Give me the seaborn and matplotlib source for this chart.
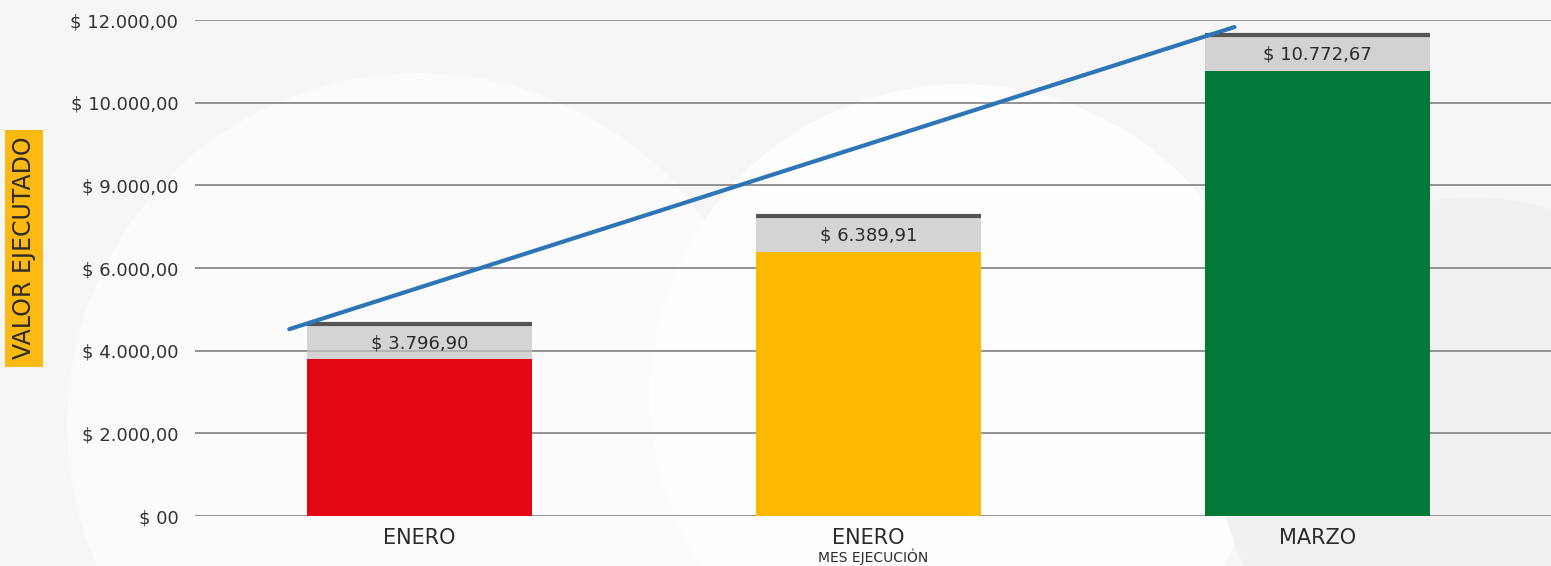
import matplotlib
matplotlib.use("Agg")
import matplotlib.pyplot as plt
from matplotlib.patches import Circle
import pandas as pd
import seaborn as sns

# data
months = ["ENERO", "ENERO", "MARZO"]
values = [3796.90, 6389.91, 10772.67]
value_labels = ["$ 3.796,90", "$ 6.389,91", "$ 10.772,67"]
bar_colors = ["#E30613", "#FFB900", "#007A36"]
cap = 860
tick_values = [0, 2000, 4000, 6000, 8000, 10000, 12000]
tick_labels = ["$ 00", "$ 2.000,00", "$ 4.000,00", "$ 6.000,00",
               "$ 9.000,00", "$ 10.000,00", "$ 12.000,00"]
trend_x = [-0.29, 1.815]
trend_y = [4520, 11830]

df = pd.DataFrame({"key": ["m1", "m2", "m3"], "month": months, "value": values})

sns.set_style("white")
plt.rcParams["font.family"] = ["DejaVu Sans"]

fig = plt.figure(figsize=(15.51, 5.66), dpi=100)
fig.patch.set_facecolor("#f6f6f6")

# faint watermark shapes in the background
for cx, cy, r, c in [(0.27, 0.25, 0.62, "#fbfbfb"), (0.62, 0.3, 0.55, "#fdfdfd"),
                     (0.95, 0.2, 0.45, "#f1f1f1")]:
    fig.patches.append(Circle((cx * 15.51 * 100, cy * 5.66 * 100), r * 566,
                              transform=None, color=c, zorder=-10))

ax = fig.add_axes([195 / 1551, 1 - 516 / 566, 1 - 195 / 1551, 496 / 566])
ax.set_facecolor("none")

sns.barplot(data=df, x="key", y="value", hue="key", palette=bar_colors,
            legend=False, width=0.5, ax=ax, zorder=3, saturation=1,
            linewidth=0, edgecolor="none")

pos = list(range(len(values)))
ax.bar(pos, [cap] * len(values), bottom=values, width=0.5,
       color="#c4c4c4", alpha=0.7, zorder=3, linewidth=0)
ax.hlines([v + cap for v in values], [p - 0.25 for p in pos],
          [p + 0.25 for p in pos], color="#555555", lw=3, zorder=4)
for p, v, t in zip(pos, values, value_labels):
    ax.text(p, v + cap * 0.45, t, ha="center", va="center",
            fontsize=13, color="#2b2b2b", zorder=5)

ax.plot(trend_x, trend_y, color="#2E75B6", lw=3, zorder=6, clip_on=False)

ax.set_xlim(-0.5, 2.52)
ax.set_ylim(0, 12000)
ax.set_yticks(tick_values)
ax.set_yticklabels(tick_labels, fontsize=13, color="#333333")
ax.set_xticks(pos)
ax.set_xticklabels(months, fontsize=15, color="#2b2b2b")
ax.tick_params(length=0, pad=12)
ax.tick_params(axis="x", pad=9)
ax.grid(axis="y", color="#8a8a8a", lw=1.3, zorder=1)
ax.set_axisbelow(True)
sns.despine(ax=ax, left=True, bottom=True)

ax.set_xlabel("MES EJECUCIÓN", fontsize=10, color="#2b2b2b", labelpad=0)
ax.set_ylabel("VALOR EJECUTADO", fontsize=17, color="#2b2b2b",
              bbox=dict(boxstyle="square,pad=0.3", fc="#FDB913", ec="none"))
ax.yaxis.set_label_coords(-0.1175, 0.54)

fig.savefig("out.png", dpi=100, facecolor=fig.get_facecolor())
